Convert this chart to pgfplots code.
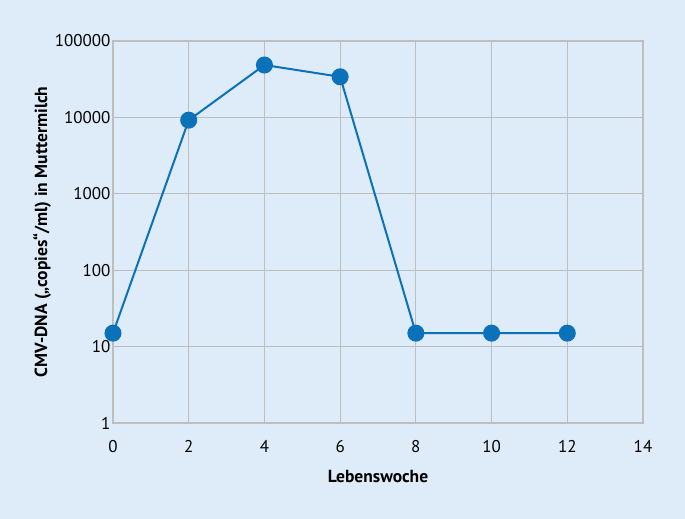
\documentclass[border=0pt]{standalone}
\usepackage{pgfplots}
\pgfplotsset{compat=1.18}
\usepackage{fontspec}
\setmainfont{PT Sans}
\definecolor{bg}{HTML}{DEEBF8}
\definecolor{grd}{HTML}{BEBEBE}
\definecolor{ln}{HTML}{0B72B9}
\begin{document}
\begin{tikzpicture}
\fill[bg] (-113bp,-96bp) rectangle (572bp,423bp);
\useasboundingbox (-113bp,-96bp) rectangle (572bp,423bp);
\begin{axis}[
  at={(0,0)}, anchor=south west,
  scale only axis, width=530bp, height=382bp,
  ymode=log,
  xmin=0, xmax=14, ymin=1, ymax=100000,
  xtick={0,2,...,14},
  ytick={1,10,100,1000,10000,100000},
  yticklabels={1,10,100,1000,10000,100000},
  /pgf/number format/assume math mode=true,
  grid=major,
  major grid style={grd,line width=1.2bp},
  axis line style={grd,line width=1.2bp},
  tick style={draw=none},
  ticklabel style={font=\fontsize{17bp}{20bp}\selectfont},
  yticklabel style={xshift=1bp},
  xticklabel style={yshift=-14bp},
  xlabel={\textbf{Lebenswoche}},
  ylabel={\textbf{CMV-DNA („copies“/ml) in Muttermilch}},
  label style={font=\fontsize{17.5bp}{20bp}\selectfont},
  xlabel style={at={(axis description cs:0.5,-0.139)}, anchor=center},
  ylabel style={at={(axis description cs:-0.134,0.5)}, anchor=center},
  clip=false,
]
  \addplot[ln, line width=2bp, mark=*, mark size=7.5bp, mark options={fill=ln, draw=ln}]
    coordinates {(0,15) (2,9200) (4,48500) (6,34000) (8,15) (10,15) (12,15)};
\end{axis}
\end{tikzpicture}
\end{document}
